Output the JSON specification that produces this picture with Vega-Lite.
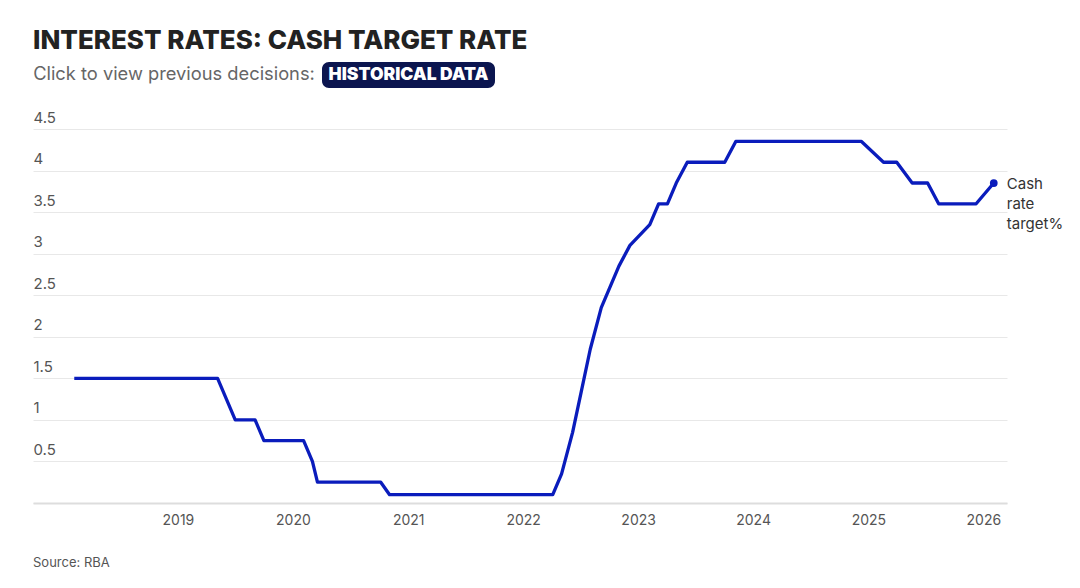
{
  "$schema": "https://vega.github.io/schema/vega-lite/v6.json",
  "background": "white",
  "padding": {"left": 33, "top": 28, "right": 5, "bottom": 10},
  "title": {"text": "INTEREST RATES: CASH TARGET RATE", "anchor": "start", "fontSize": 26, "font": "Inter", "fontWeight": 800, "color": "#222222", "offset": 8},
  "config": {"view": {"stroke": null}, "font": "Inter"},
  "spacing": 22,
  "vconcat": [
    {
      "spacing": 7,
      "hconcat": [
        {
          "width": 282,
          "height": 26,
          "data": {"values": [{"label": "Click to view previous decisions:"}]},
          "mark": {"type": "text", "color": "#666666", "fontWeight": "normal", "fontSize": 18.3, "baseline": "middle", "align": "center", "font": "Inter"},
          "encoding": {"text": {"field": "label", "type": "nominal"}}
        },
        {
          "width": 173,
          "height": 26,
          "view": {"fill": "#0b154f", "cornerRadius": 7, "stroke": null},
          "data": {"values": [{"label": "HISTORICAL DATA"}]},
          "mark": {"type": "text", "color": "white", "fontWeight": 900, "fontSize": 17.5, "baseline": "middle", "align": "center", "font": "Inter"},
          "encoding": {"text": {"field": "label", "type": "nominal"}}
        }
      ]
    },
    {
      "width": 974,
      "height": 374,
      "title": {"text": "Source: RBA", "orient": "bottom", "anchor": "start", "fontSize": 13, "fontWeight": "normal", "color": "#555555", "offset": 30, "font": "Inter"},
      "data": {"values": [
        {"date": "2018-02-06", "rate": 1.5},
        {"date": "2018-03-06", "rate": 1.5},
        {"date": "2018-04-03", "rate": 1.5},
        {"date": "2018-05-01", "rate": 1.5},
        {"date": "2018-06-05", "rate": 1.5},
        {"date": "2018-07-03", "rate": 1.5},
        {"date": "2018-08-07", "rate": 1.5},
        {"date": "2018-09-04", "rate": 1.5},
        {"date": "2018-10-02", "rate": 1.5},
        {"date": "2018-11-06", "rate": 1.5},
        {"date": "2018-12-04", "rate": 1.5},
        {"date": "2019-02-05", "rate": 1.5},
        {"date": "2019-03-05", "rate": 1.5},
        {"date": "2019-04-02", "rate": 1.5},
        {"date": "2019-05-07", "rate": 1.5},
        {"date": "2019-06-04", "rate": 1.25},
        {"date": "2019-07-02", "rate": 1.0},
        {"date": "2019-08-06", "rate": 1.0},
        {"date": "2019-09-03", "rate": 1.0},
        {"date": "2019-10-01", "rate": 0.75},
        {"date": "2019-11-05", "rate": 0.75},
        {"date": "2019-12-03", "rate": 0.75},
        {"date": "2020-02-04", "rate": 0.75},
        {"date": "2020-03-03", "rate": 0.5},
        {"date": "2020-03-19", "rate": 0.25},
        {"date": "2020-04-07", "rate": 0.25},
        {"date": "2020-05-05", "rate": 0.25},
        {"date": "2020-06-02", "rate": 0.25},
        {"date": "2020-07-07", "rate": 0.25},
        {"date": "2020-08-04", "rate": 0.25},
        {"date": "2020-09-01", "rate": 0.25},
        {"date": "2020-10-06", "rate": 0.25},
        {"date": "2020-11-03", "rate": 0.1},
        {"date": "2020-12-01", "rate": 0.1},
        {"date": "2021-02-02", "rate": 0.1},
        {"date": "2021-03-02", "rate": 0.1},
        {"date": "2021-04-06", "rate": 0.1},
        {"date": "2021-05-04", "rate": 0.1},
        {"date": "2021-06-01", "rate": 0.1},
        {"date": "2021-07-06", "rate": 0.1},
        {"date": "2021-08-03", "rate": 0.1},
        {"date": "2021-09-07", "rate": 0.1},
        {"date": "2021-10-05", "rate": 0.1},
        {"date": "2021-11-02", "rate": 0.1},
        {"date": "2021-12-07", "rate": 0.1},
        {"date": "2022-02-01", "rate": 0.1},
        {"date": "2022-03-01", "rate": 0.1},
        {"date": "2022-04-05", "rate": 0.1},
        {"date": "2022-05-03", "rate": 0.35},
        {"date": "2022-06-07", "rate": 0.85},
        {"date": "2022-07-05", "rate": 1.35},
        {"date": "2022-08-02", "rate": 1.85},
        {"date": "2022-09-06", "rate": 2.35},
        {"date": "2022-10-04", "rate": 2.6},
        {"date": "2022-11-01", "rate": 2.85},
        {"date": "2022-12-06", "rate": 3.1},
        {"date": "2023-02-07", "rate": 3.35},
        {"date": "2023-03-07", "rate": 3.6},
        {"date": "2023-04-04", "rate": 3.6},
        {"date": "2023-05-02", "rate": 3.85},
        {"date": "2023-06-06", "rate": 4.1},
        {"date": "2023-07-04", "rate": 4.1},
        {"date": "2023-08-01", "rate": 4.1},
        {"date": "2023-09-05", "rate": 4.1},
        {"date": "2023-10-03", "rate": 4.1},
        {"date": "2023-11-07", "rate": 4.35},
        {"date": "2023-12-05", "rate": 4.35},
        {"date": "2024-02-06", "rate": 4.35},
        {"date": "2024-03-19", "rate": 4.35},
        {"date": "2024-05-07", "rate": 4.35},
        {"date": "2024-06-18", "rate": 4.35},
        {"date": "2024-08-06", "rate": 4.35},
        {"date": "2024-09-24", "rate": 4.35},
        {"date": "2024-11-05", "rate": 4.35},
        {"date": "2024-12-10", "rate": 4.35},
        {"date": "2025-02-18", "rate": 4.1},
        {"date": "2025-04-01", "rate": 4.1},
        {"date": "2025-05-20", "rate": 3.85},
        {"date": "2025-07-08", "rate": 3.85},
        {"date": "2025-08-12", "rate": 3.6},
        {"date": "2025-09-30", "rate": 3.6},
        {"date": "2025-11-04", "rate": 3.6},
        {"date": "2025-12-09", "rate": 3.6},
        {"date": "2026-02-03", "rate": 3.85}
      ]},
      "encoding": {
        "x": {
          "field": "date", "type": "temporal",
          "scale": {"type": "utc", "domain": ["2017-09-28", "2026-03-17"], "nice": false},
          "axis": {
            "title": null, "format": "%Y", "formatType": "utc",
            "values": [
              {"year": 2019, "month": 1, "date": 1, "utc": true},
              {"year": 2020, "month": 1, "date": 1, "utc": true},
              {"year": 2021, "month": 1, "date": 1, "utc": true},
              {"year": 2022, "month": 1, "date": 1, "utc": true},
              {"year": 2023, "month": 1, "date": 1, "utc": true},
              {"year": 2024, "month": 1, "date": 1, "utc": true},
              {"year": 2025, "month": 1, "date": 1, "utc": true},
              {"year": 2026, "month": 1, "date": 1, "utc": true}
            ],
            "grid": false, "ticks": false, "tickSize": 0, "domain": true, "domainColor": "#dddddd", "domainWidth": 2,
            "labelFontSize": 14, "labelColor": "#555555", "labelPadding": 10, "labelFont": "Inter"
          }
        },
        "y": {
          "field": "rate", "type": "quantitative",
          "scale": {"domain": [0, 4.5], "nice": false, "zero": true},
          "axis": {
            "title": null, "values": [0, 0.5, 1, 1.5, 2, 2.5, 3, 3.5, 4, 4.5],
            "labelExpr": "datum.value == 0 ? '' : format(datum.value, '~g')",
            "labelAlign": "left", "labelBaseline": "alphabetic", "labelPadding": 0, "labelOffset": -7,
            "ticks": false, "tickSize": 0, "domain": false, "grid": true, "gridColor": "#e8e8e8", "gridWidth": 1,
            "labelFontSize": 15, "labelColor": "#555555", "labelFont": "Inter"
          }
        }
      },
      "layer": [
        {"mark": {"type": "line", "color": "#0a1cbc", "strokeWidth": 3.3, "strokeJoin": "round"}},
        {
          "transform": [{"filter": "year(datum.date) == 2026"}],
          "mark": {"type": "point", "filled": true, "color": "#0a1cbc", "size": 60, "opacity": 1}
        },
        {
          "transform": [{"filter": "year(datum.date) == 2026"}],
          "mark": {"type": "text", "align": "left", "baseline": "alphabetic", "dx": 13, "dy": 6, "lineHeight": 20, "fontSize": 15, "color": "#333333", "font": "Inter"},
          "encoding": {"text": {"value": ["Cash", "rate", "target%"]}}
        }
      ]
    }
  ]
}
